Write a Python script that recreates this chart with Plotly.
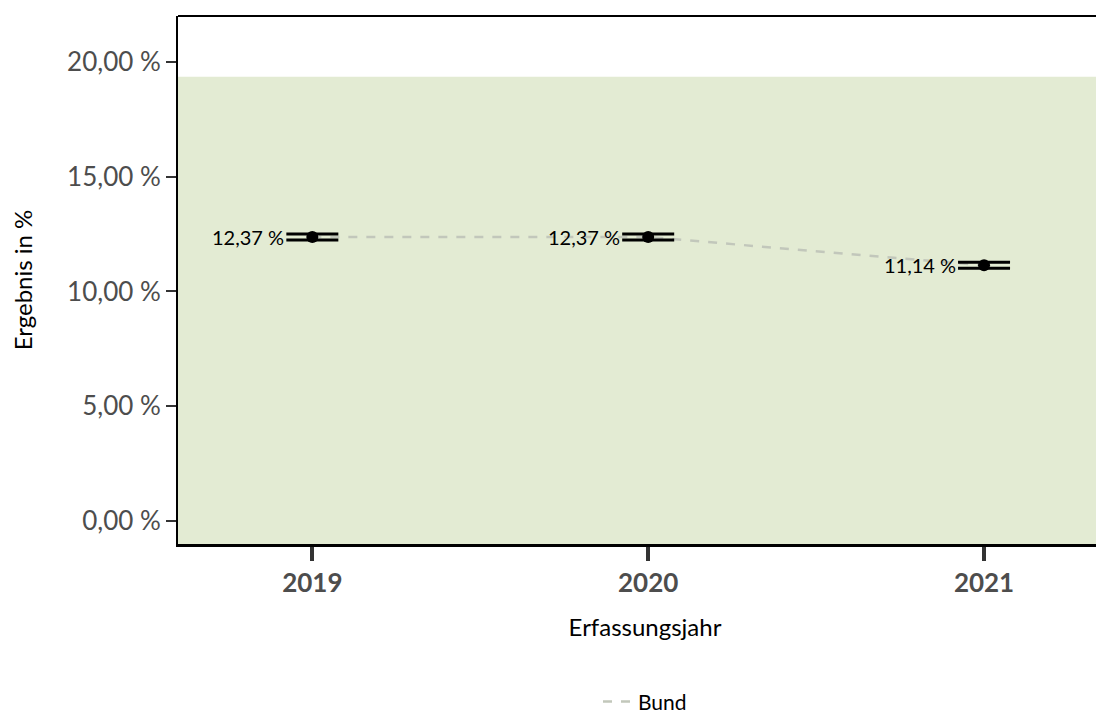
import plotly.graph_objects as go

years = [2019, 2020, 2021]
values = [12.37, 12.37, 11.14]
ci_half = [0.13, 0.13, 0.13]
labels = ["12,37 %", "12,37 %", "11,14 %"]
y_ticks = [0, 5, 10, 15, 20]
y_ticklabels = ["0,00 %", "5,00 %", "10,00 %", "15,00 %", "20,00 %"]
ref_upper = 19.35

FONT = "Lato"

fig = go.Figure()

fig.add_trace(go.Scatter(
    x=years, y=values, mode="lines", name="Bund",
    line=dict(color="#c2c7bb", width=2.5, dash="dash"),
    showlegend=True,
))
fig.add_trace(go.Scatter(
    x=years, y=values, mode="markers", showlegend=False,
    marker=dict(color="black", size=12),
    error_y=dict(type="data", array=ci_half, visible=True, color="black", thickness=3, width=26),
))

for x, y, t in zip(years, values, labels):
    fig.add_annotation(x=x, y=y, text=t, showarrow=False, xanchor="right", yanchor="middle",
                       xshift=-26, font=dict(family=FONT, size=20, color="black"))

fig.add_shape(type="rect", xref="paper", x0=0, x1=1, yref="y", y0=-1, y1=ref_upper,
              fillcolor="#e3ebd3", line=dict(width=0), layer="below")
fig.add_shape(type="line", xref="paper", x0=0, x1=1, yref="paper", y0=1, y1=1,
              line=dict(color="black", width=2))

fig.update_layout(
    width=1104, height=723,
    margin=dict(l=170, r=0, t=8, b=187),
    paper_bgcolor="white", plot_bgcolor="white",
    font=dict(family=FONT),
    xaxis=dict(
        range=[2018.6, 2021.381], tickvals=years, ticktext=[str(y) for y in years],
        tickfont=dict(family=FONT, size=26, color="#4d4d4d", weight="bold"),
        ticks="outside", ticklen=14, tickwidth=4, tickcolor="#333333",
        showline=True, linecolor="black", linewidth=3, showgrid=False, zeroline=False,
        title=dict(text="Erfassungsjahr", font=dict(family=FONT, size=24, color="black"), standoff=22),
    ),
    yaxis=dict(
        range=[-1, 22], tickvals=y_ticks, ticktext=y_ticklabels,
        tickfont=dict(family=FONT, size=26, color="#4d4d4d"),
        ticks="outside", ticklen=10, tickwidth=2, tickcolor="#333333",
        showline=True, linecolor="black", linewidth=2, showgrid=False, zeroline=False,
        title=dict(text="Ergebnis in %", font=dict(family=FONT, size=24, color="black"), standoff=38),
    ),
    legend=dict(orientation="h", x=0.5, xanchor="center", y=-0.299, yanchor="middle",
                font=dict(family=FONT, size=21, color="black")),
)

fig.write_html("out.html")
